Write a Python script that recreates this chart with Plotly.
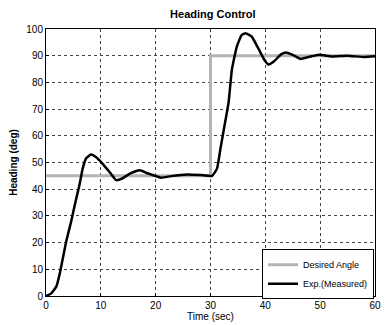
import plotly.graph_objects as go

# Desired angle (step reference)
desired_t = [0, 30, 30, 60]
desired_v = [45, 45, 90, 90]

# Measured heading
meas_t = [0, 0.9, 1.9, 2.5, 3.1, 3.7, 4.6, 5.4, 6.1, 6.7, 7.3, 8.2, 9.1, 10.3, 11.8, 12.8,
          13.9, 15.4, 17.1, 18.6, 21.0, 22.8, 25.8, 28.2, 30.3, 31.2, 31.8, 32.4, 33.3,
          33.9, 34.8, 35.7, 36.4, 37.5, 38.7, 39.8, 40.6, 41.6, 42.8, 43.7, 44.9, 46.4,
          49.7, 52.1, 55.0, 58.0, 60.0]
meas_v = [0, 0.9, 3.6, 8.3, 14.4, 20.6, 28.0, 35.5, 41.6, 47.8, 51.5, 53.0, 52.1, 49.6, 45.9,
          43.4, 44.0, 45.9, 47.1, 45.9, 44.3, 44.9, 45.5, 45.3, 45.0, 47.8, 55.0, 62.0, 72.5,
          84.8, 93.4, 97.8, 98.4, 97.2, 92.8, 88.5, 86.7, 87.9, 90.4, 91.2, 90.4, 88.8,
          90.4, 89.7, 90.0, 89.5, 89.8]

x_ticks = [0, 10, 20, 30, 40, 50, 60]
y_ticks = [0, 10, 20, 30, 40, 50, 60, 70, 80, 90, 100]

fig = go.Figure()
fig.add_trace(go.Scatter(x=desired_t, y=desired_v, mode="lines", name="Desired Angle",
                         line=dict(color="#b4b4b4", width=3)))
fig.add_trace(go.Scatter(x=meas_t, y=meas_v, mode="lines", name="Exp.(Measured)",
                         line=dict(color="black", width=2.5, shape="spline", smoothing=0.4)))

axis_common = dict(showline=True, linecolor="black", linewidth=1, mirror=True,
                   showgrid=True, gridcolor="#444", griddash="dot", gridwidth=1,
                   ticks="inside", ticklen=3, tickcolor="black", zeroline=False,
                   tickfont=dict(family="Liberation Sans, Arial", size=10, color="black"))

fig.update_layout(
    width=386, height=325,
    margin=dict(l=46, r=5, t=29, b=26),
    paper_bgcolor="white", plot_bgcolor="white",
    title=dict(text="<b>Heading Control</b>", x=0.5515, xanchor="center", y=0.957, yanchor="middle",
               font=dict(family="Liberation Sans, Arial", size=11, color="black")),
    xaxis=dict(range=[0, 60], tickvals=x_ticks,
               title=dict(text="Time (sec)", standoff=2,
                          font=dict(family="Liberation Sans, Arial", size=10, color="black")),
               **axis_common),
    yaxis=dict(range=[0, 100], tickvals=y_ticks,
               title=dict(text="<b>Heading (deg)</b>", standoff=6,
                          font=dict(family="Liberation Sans, Arial", size=10, color="black")),
               **axis_common),
    legend=dict(x=0.997, y=-0.012, xanchor="right", yanchor="bottom",
                bgcolor="white", bordercolor="black", borderwidth=1,
                font=dict(family="Liberation Sans, Arial", size=9, color="black"),
                tracegroupgap=0, itemwidth=30),
    showlegend=True,
)

fig.write_html("out.html")
